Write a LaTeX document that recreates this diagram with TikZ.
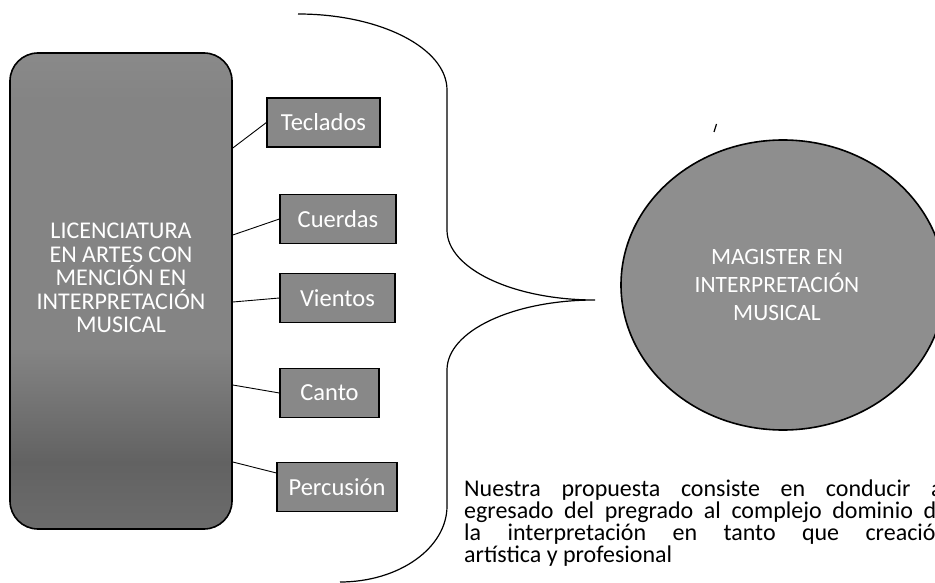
\documentclass[tikz,border=0pt]{standalone}
\usepackage{fontspec}
\setmainfont{Carlito}
\usetikzlibrary{shapes.geometric,calc}
\definecolor{boxgray}{RGB}{136,136,136}
\definecolor{circgray}{RGB}{142,142,142}
\definecolor{shA}{RGB}{138,138,138}
\definecolor{shB}{RGB}{118,118,118}
\definecolor{shC}{RGB}{98,98,98}
\definecolor{shD}{RGB}{132,132,132}
\definecolor{shE}{RGB}{152,152,152}
\pgfdeclareverticalshading{bigshade}{100bp}{color(0bp)=(shA); color(18bp)=(shB); color(32bp)=(shC); color(44bp)=(shD); color(70bp)=(shD); color(88bp)=(shE); color(100bp)=(shE)}
\begin{document}
\begin{tikzpicture}[x=1pt,y=-1pt,
  bigbox/.style={draw=black, line width=1.6pt, rounded corners=28pt, shading=bigshade, minimum width=222pt, minimum height=476pt, inner sep=0pt},
  bigtext/.style={text=white, align=center, inner sep=0pt, font={\fontsize{24}{23.5}\selectfont\lineskiplimit=-30pt}},
  instr/.style={draw=black, line width=1.2pt, fill=boxgray, text=white, font=\fontsize{24.5}{26}\selectfont, minimum height=49pt, inner sep=0pt},
  conn/.style={draw=black, line width=0.9pt},
  bracepath/.style={draw=black, line width=1.2pt},
  circtext/.style={text=white, align=center, inner sep=0pt, font={\fontsize{23.4}{28}\selectfont\lineskiplimit=-30pt}},
  paratext/.style={anchor=base west, text width=484pt, inner sep=0pt, align=justify, font={\fontsize{24}{22.3}\selectfont\lineskiplimit=-30pt}}
]
\useasboundingbox (0,0) rectangle (935,583);
\clip (0,0) rectangle (935,583);

% big box
\node[bigbox] (lic) at (121,291) {};
\node[bigtext] (lict) at (121,278) {LICENCIATURA\\EN ARTES CON\\MENCIÓN EN\\INTERPRETACIÓN\\MUSICAL};

% instrument boxes
\node[instr, minimum width=113pt] (tec) at (323.5,122.5) {Teclados};
\node[instr, minimum width=116pt] (cue) at (338,219) {Cuerdas};
\node[instr, minimum width=115pt] (vie) at (337.5,298) {Vientos};
\node[instr, minimum width=99pt] (can) at (329.5,393) {Canto};
\node[instr, minimum width=120pt] (per) at (337,487) {Percusión};

% connectors
\draw[conn] ([yshift=143pt]lic.east) -- (tec.west);
\draw[conn] ([yshift=56pt]lic.east) -- (cue.west);
\draw[conn] ([yshift=-11pt]lic.east) -- (vie.west);
\draw[conn] ([yshift=-94pt]lic.east) -- (can.west);
\draw[conn] ([yshift=-171pt]lic.east) -- ([yshift=14pt]per.west);

% brace
\draw[bracepath] (298,14) .. controls (380,14) and (447,48) .. (447,90) -- (447,230)
  .. controls (447,268.6) and (513,300) .. (595,300)
  .. controls (513,300) and (447,331) .. (447,370) -- (447,506)
  .. controls (447,548) and (399,582) .. (340,582);

% circle
\node[ellipse, draw=black, line width=1.6pt, fill=circgray, minimum width=324pt, minimum height=290pt, inner sep=0pt] (mag) at (783,285) {};
\node[circtext] (magt) at (777,285) {MAGISTER EN\\INTERPRETACIÓN\\MUSICAL};

% small mark
\draw[line width=1.2pt] (714,132) -- (716.5,124);

% paragraph
\node[paratext] (para) at (464,496) {Nuestra propuesta consiste en conducir al\linebreak egresado del pregrado al complejo dominio de\linebreak la interpretación en tanto que creación\linebreak artística y profesional};
\end{tikzpicture}
\end{document}
